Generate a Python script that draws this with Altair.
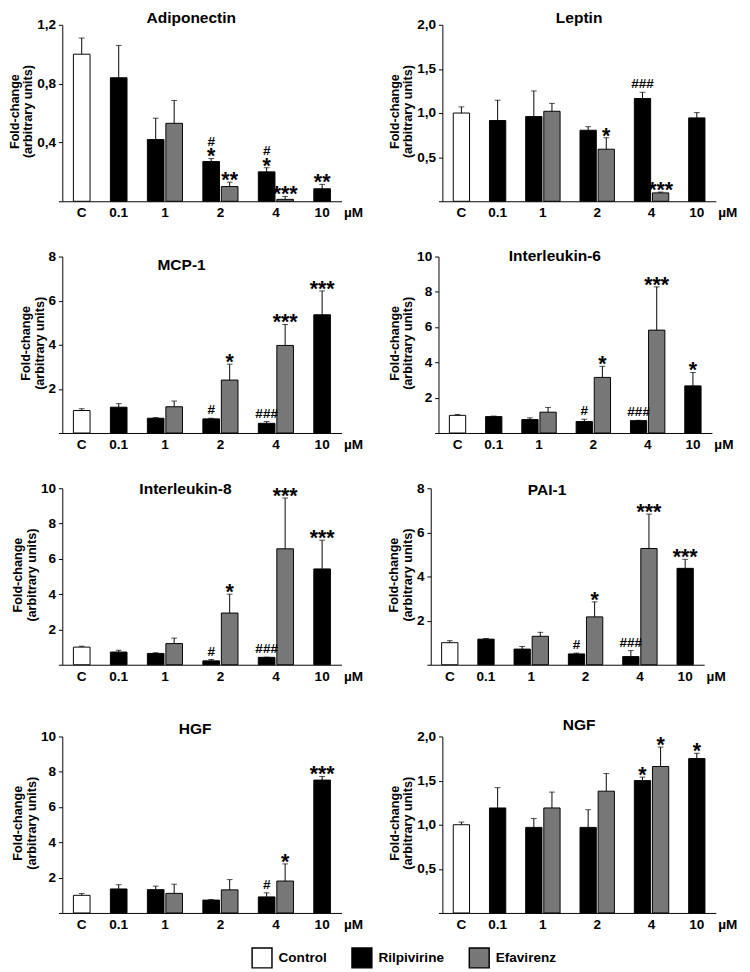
import altair as alt
import pandas as pd

# ---------------- data ----------------
slots = ["C", "0.1", "1R", "1E", "2R", "2E", "4R", "4E", "10"]
series = ["Control", "Rilpivirine", "Rilpivirine", "Efavirenz", "Rilpivirine",
          "Efavirenz", "Rilpivirine", "Efavirenz", "Rilpivirine"]
slot_domain = ["C", "g1", "0.1", "g2", "1R", "1E", "g3", "2R", "2E", "g4", "4R", "4E", "g5", "10"]
group_labels = {"C": "C", "0.1": "0.1", "1R": "1", "2R": "2", "4R": "4", "10": "10"}
pair_slots = ["1R", "2R", "4R"]
series_names = ["Control", "Rilpivirine", "Efavirenz"]
series_colors = ["#ffffff", "#000000", "#777777"]

adipo_mean = [1.00, 0.84, 0.42, 0.53, 0.27, 0.10, 0.20, 0.013, 0.085]
adipo_err = [0.11, 0.22, 0.145, 0.155, 0.02, 0.03, 0.028, 0.02, 0.03]
adipo_star = ["", "", "", "", "*", "**", "*", "***", "**"]
adipo_hash = ["", "", "", "", "#", "", "#", "", ""]

leptin_mean = [1.00, 0.915, 0.96, 1.02, 0.805, 0.59, 1.165, 0.095, 0.945]
leptin_err = [0.07, 0.23, 0.29, 0.09, 0.04, 0.13, 0.07, 0.01, 0.06]
leptin_star = ["", "", "", "", "", "*", "", "***", ""]
leptin_hash = ["", "", "", "", "", "", "###", "", ""]

mcp1_mean = [1.02, 1.17, 0.67, 1.19, 0.64, 2.40, 0.44, 3.97, 5.36]
mcp1_err = [0.08, 0.16, 0.03, 0.26, 0.03, 0.72, 0.08, 0.95, 1.08]
mcp1_star = ["", "", "", "", "", "*", "", "***", "***"]
mcp1_hash = ["", "", "", "", "#", "", "###", "", ""]

il6_mean = [1.00, 0.93, 0.76, 1.18, 0.65, 3.15, 0.70, 5.83, 2.67]
il6_err = [0.05, 0.03, 0.10, 0.27, 0.13, 0.63, 0.02, 2.45, 0.76]
il6_star = ["", "", "", "", "", "*", "", "***", "*"]
il6_hash = ["", "", "", "", "#", "", "###", "", ""]

il8_mean = [1.00, 0.72, 0.64, 1.20, 0.22, 2.93, 0.42, 6.57, 5.43]
il8_err = [0.05, 0.10, 0.04, 0.31, 0.08, 1.07, 0.01, 2.88, 1.63]
il8_star = ["", "", "", "", "", "*", "", "***", "***"]
il8_hash = ["", "", "", "", "#", "", "###", "", ""]

pai1_mean = [1.00, 1.16, 0.71, 1.29, 0.49, 2.17, 0.37, 5.27, 4.37]
pai1_err = [0.09, 0.03, 0.12, 0.18, 0.04, 0.68, 0.27, 1.56, 0.41]
pai1_star = ["", "", "", "", "", "*", "", "***", "***"]
pai1_hash = ["", "", "", "", "#", "", "###", "", ""]

hgf_mean = [1.00, 1.36, 1.32, 1.11, 0.73, 1.31, 0.91, 1.81, 7.53]
hgf_err = [0.10, 0.24, 0.20, 0.52, 0.03, 0.58, 0.23, 0.97, 0.20]
hgf_star = ["", "", "", "", "", "", "", "*", "***"]
hgf_hash = ["", "", "", "", "", "", "#", "", ""]

ngf_mean = [1.00, 1.19, 0.97, 1.19, 0.97, 1.38, 1.50, 1.66, 1.75]
ngf_err = [0.03, 0.23, 0.10, 0.18, 0.20, 0.20, 0.04, 0.22, 0.06]
ngf_star = ["", "", "", "", "", "", "*", "*", "*"]
ngf_hash = ["", "", "", "", "", "", "", "", ""]

FONT = "Liberation Sans"
H = 182
P_IN, P_OUT = 0.1, 0.6


def label_expr():
    parts = []
    for k, v in group_labels.items():
        parts.append(f"datum.value == '{k}' ? '{v}' : ")
    return "".join(parts) + "''"


def panel(name, mean, err, star, hsh, ymax, yvals, decimal, width, t_off, t_dx, show_legend=False):
    df = pd.DataFrame({"slot": slots, "series": series, "mean": mean, "err": err,
                       "star": star, "hash": hsh})
    step = width / (len(slot_domain) - P_IN + 2 * P_OUT)
    pair_test = " || ".join([f"datum.value == '{s}'" for s in pair_slots])
    ylab = ("datum.value == 0 ? '' : replace(format(datum.value, '.1f'), '.', ',')" if decimal
            else "datum.value == 0 ? '' : datum.label")
    xenc = alt.X("slot:N",
                 scale=alt.Scale(domain=slot_domain, paddingInner=P_IN, paddingOuter=P_OUT),
                 axis=alt.Axis(title="µM", labelExpr=label_expr(), ticks=False, labelAngle=0,
                               labelPadding=5, labelOverlap=False,
                               labelOffset={"condition": {"test": pair_test, "value": step / 2}, "value": 0},
                               titleX=width + 2, titleY=5, titleAlign="left", titleBaseline="top",
                               titleAngle=0, titleFontSize=14))
    yenc = alt.Y("mean:Q", scale=alt.Scale(domain=[0, ymax], nice=False),
                 axis=alt.Axis(values=yvals, tickCount=len(yvals), labelExpr=ylab,
                               title=["Fold-change", "(arbitrary units)"],
                               tickSize=4, labelPadding=3, labelOverlap=False, titleY=89,
                               titlePadding=2, titleLineHeight=14))
    base = alt.Chart(df).transform_calculate(top="datum.mean + datum.err")
    fill = alt.Fill("series:N", scale=alt.Scale(domain=series_names, range=series_colors),
                    legend=alt.Legend(title=None) if show_legend else None)
    bars = base.mark_bar(stroke="black", strokeWidth=1).encode(x=xenc, y=yenc, fill=fill)
    rule = base.mark_rule(color="black", strokeWidth=1).encode(
        x="slot:N", y="mean:Q", y2="top:Q")
    cap = base.mark_tick(color="black", thickness=1, size=6).encode(x="slot:N", y="top:Q")
    stars = base.transform_filter("datum.star != ''").mark_text(
        font=FONT, fontSize=22, fontWeight="bold", baseline="alphabetic",
        dy=5, color="black").encode(x="slot:N", y="top:Q", text="star:N")
    hash_alone = base.transform_filter("datum.star == '' && datum.hash != ''").mark_text(
        font=FONT, fontSize=14, fontWeight="bold", baseline="alphabetic", dy=-4, color="black").encode(
        x="slot:N", y="top:Q", text="hash:N")
    hash_above = base.transform_filter("datum.star != '' && datum.hash != ''").mark_text(
        font=FONT, fontSize=14, fontWeight="bold", baseline="alphabetic", dy=-13, color="black").encode(
        x="slot:N", y="top:Q", text="hash:N")
    return alt.layer(bars, rule, cap, stars, hash_alone, hash_above).properties(
        width=width, height=H,
        title=alt.TitleParams(text=name, offset=t_off, dx=t_dx, fontSize=16, fontWeight="bold",
                              frame="group", anchor="middle", font=FONT, color="black"))


WL, WR = 288, 282
p1 = panel("Adiponectin", adipo_mean, adipo_err, adipo_star, adipo_hash, 1.2, [0, 0.4, 0.8, 1.2], True, WL, -8, -11, True)
p2 = panel("Leptin", leptin_mean, leptin_err, leptin_star, leptin_hash, 2.0, [0, 0.5, 1.0, 1.5, 2.0], True, WR, -8, 0)
p3 = panel("MCP-1", mcp1_mean, mcp1_err, mcp1_star, mcp1_hash, 8, [0, 2, 4, 6, 8], False, WL, -24, -21)
p4 = panel("Interleukin-6", il6_mean, il6_err, il6_star, il6_hash, 10, [0, 2, 4, 6, 8, 10], False, WR, -15, -21)
p5 = panel("Interleukin-8", il8_mean, il8_err, il8_star, il8_hash, 10, [0, 2, 4, 6, 8, 10], False, WL, -16, -17)
p6 = panel("PAI-1", pai1_mean, pai1_err, pai1_star, pai1_hash, 8, [0, 2, 4, 6, 8], False, WR, -17, -21)
p7 = panel("HGF", hgf_mean, hgf_err, hgf_star, hgf_hash, 10, [0, 2, 4, 6, 8, 10], False, WL, -7, -7)
p8 = panel("NGF", ngf_mean, ngf_err, ngf_star, ngf_hash, 2.0, [0, 0.5, 1.0, 1.5, 2.0], True, WR, -3, 0)

rows = [alt.hconcat(a, b, spacing=26) for a, b in [(p1, p2), (p3, p4), (p5, p6), (p7, p8)]]
top_half = alt.vconcat(rows[0], rows[1], spacing=30)
bottom_half = alt.vconcat(rows[2], rows[3], spacing=35)
chart = alt.vconcat(top_half, bottom_half, spacing=31).resolve_scale(fill="shared").properties(
    padding={"left": 0, "top": -13, "right": 5, "bottom": 0}
).configure(font=FONT).configure_view(stroke=None).configure_axis(
    labelFont=FONT, labelFontSize=14, labelFontWeight="bold", labelColor="black",
    titleFont=FONT, titleFontSize=13, titleFontWeight="bold", titleColor="black",
    domainColor="black", tickColor="black", grid=False, labelOverlap=False
).configure_legend(
    orient="none", legendX=195, legendY=951, direction="horizontal",
    symbolType="square", symbolSize=420, symbolStrokeColor="black", symbolStrokeWidth=1.5,
    symbolOpacity=1, labelFont=FONT, labelFontSize=14, labelFontWeight="bold", labelColor="black",
    labelOffset=6, columnPadding=22, padding=0
)

chart.save("out.html", embed_options={"renderer": "svg", "actions": False})
